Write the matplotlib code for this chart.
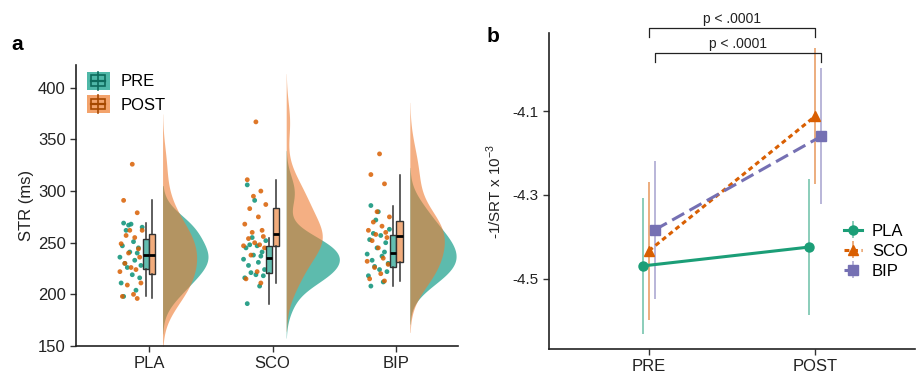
import numpy as np
import matplotlib
matplotlib.use('Agg')
import matplotlib.pyplot as plt
from matplotlib.patches import Patch, Rectangle
from matplotlib.lines import Line2D
from matplotlib.legend_handler import HandlerPatch

plt.rcParams['font.family'] = ['Liberation Sans', 'DejaVu Sans']

# ---- panel a data (STR, ms) ----
groups = ['PLA', 'SCO', 'BIP']
pla_pre = [198, 204, 211, 216, 219, 226, 228, 230, 233, 236, 240, 241, 245, 247, 251, 262, 265, 267, 268, 269]
pla_post = [196, 198, 200, 209, 211, 222, 224, 226, 230, 236, 240, 244, 249, 255, 257, 262, 262, 279, 291, 326]
sco_pre = [191, 208, 216, 218, 219, 221, 224, 228, 231, 234, 237, 238, 241, 245, 247, 248, 252, 255, 291, 306]
sco_post = [211, 215, 222, 238, 245, 247, 248, 250, 254, 256, 260, 262, 268, 275, 283, 287, 295, 300, 311, 367]
bip_pre = [208, 212, 218, 222, 224, 227, 230, 233, 237, 239, 241, 245, 250, 253, 257, 259, 263, 272, 280, 286]
bip_post = [213, 215, 220, 226, 229, 232, 235, 245, 252, 255, 258, 260, 262, 266, 270, 275, 280, 307, 316, 336]
pre_vals = [pla_pre, sco_pre, bip_pre]
post_vals = [pla_post, sco_post, bip_post]
# horizontal jitter of the raw points
jit_pre = [-0.06, 0.04, -0.08, 0.07, 0.01, -0.03, 0.08, -0.05, 0.03, -0.09,
           0.05, -0.01, 0.06, -0.07, 0.02, -0.04, 0.09, -0.02, 0.00, -0.06]
jit_post = [0.05, -0.07, 0.02, -0.03, 0.08, -0.09, 0.04, 0.00, -0.05, 0.07,
            -0.02, 0.06, -0.08, 0.03, -0.04, 0.09, -0.01, 0.05, -0.06, 0.01]

# ---- panel b data (-1/SRT x 10^-3) ----
times = ['PRE', 'POST']
pla_means = [-4.469, -4.424]
sco_means = [-4.433, -4.112]
bip_means = [-4.383, -4.160]
pla_ci = [0.163, 0.163]
sco_ci = [0.164, 0.163]
bip_ci = [0.165, 0.162]
p_labels = ['p < .0001', 'p < .0001']

teal = '#17977f'
orange = '#d95f02'
purple = '#7570b3'
green = '#1b9e77'


def kde(vals, adjust=1.35):
    v = np.asarray(vals, float)
    n = len(v)
    iqr = np.subtract(*np.percentile(v, [75, 25]))
    bw = adjust * 0.9 * min(v.std(ddof=1), iqr / 1.34) * n ** -0.2
    grid = np.linspace(v.min() - 2.5 * bw, v.max() + 2.5 * bw, 300)
    d = np.exp(-0.5 * ((grid[:, None] - v[None, :]) / bw) ** 2).sum(1) / (n * bw * np.sqrt(2 * np.pi))
    return grid, d


class BoxKey(HandlerPatch):
    def create_artists(self, legend, orig_handle, xdescent, ydescent, width, height, fontsize, trans):
        x0, y0 = -xdescent, -ydescent
        bg = Rectangle((x0, y0), width, height, facecolor=orig_handle.get_facecolor(),
                       edgecolor='none', transform=trans)
        cx = x0 + width / 2
        bw = width * 0.62
        ec = orig_handle.get_edgecolor()
        box = Rectangle((cx - bw / 2, y0 + height * 0.2), bw, height * 0.6, facecolor='none',
                        edgecolor=ec, lw=1.2, transform=trans)
        wh = Line2D([cx, cx], [y0, y0 + height], color=ec, lw=1.2, transform=trans)
        md = Line2D([cx - bw / 2, cx + bw / 2], [y0 + height / 2] * 2, color=ec, lw=1.6, transform=trans)
        return [bg, wh, box, md]


fig = plt.figure(figsize=(9.17, 3.74), dpi=100)
ax = fig.add_axes([0.0829, 0.0749, 0.4166, 0.7511])
bx = fig.add_axes([0.5987, 0.0668, 0.3993, 0.845])

# ---------------- panel a ----------------
dens = [kde(v) for v in pre_vals + post_vals]
scale = 0.43 / max(d.max() for _, d in dens)
for i in range(3):
    pos = i + 1
    g, d = dens[i]
    ax.fill_betweenx(g, pos + 0.11, pos + 0.11 + d * scale, color='#189f8b', alpha=0.7, lw=0, zorder=1)
    g, d = dens[i + 3]
    ax.fill_betweenx(g, pos + 0.11, pos + 0.11 + d * scale, color='#ee7b30', alpha=0.6, lw=0, zorder=2)
    ax.scatter(pos - 0.145 + np.array(jit_pre), pre_vals[i], s=12, color=teal, alpha=0.9,
               edgecolors='none', zorder=3)
    ax.scatter(pos - 0.145 + np.array(jit_post), post_vals[i], s=12, color=orange, alpha=0.85,
               edgecolors='none', zorder=3)
    for vals, off, fc in [(pre_vals[i], -0.027, '#62bdb0'), (post_vals[i], 0.027, '#f2ac7c')]:
        ax.boxplot([vals], positions=[pos + off], widths=0.05, patch_artist=True, showfliers=False,
                   showcaps=False, manage_ticks=False, zorder=4,
                   boxprops=dict(facecolor=fc, edgecolor='#333333', lw=1.0),
                   whiskerprops=dict(color='#333333', lw=1.1),
                   medianprops=dict(color='black', lw=2.0))

ax.set_xlim(0.41, 3.5)
ax.set_ylim(150, 422)
ax.set_xticks([1, 2, 3])
ax.set_xticklabels(groups, fontsize=12)
ax.set_yticks([150, 200, 250, 300, 350, 400])
ax.tick_params(axis='y', labelsize=12, length=4, width=1, colors='#333333', labelcolor='#222222')
ax.tick_params(axis='x', length=4, width=1, colors='#333333', labelcolor='#222222')
ax.set_ylabel('STR (ms)', fontsize=12, color='#222222', labelpad=3)
for s in ['top', 'right']:
    ax.spines[s].set_visible(False)
for s in ['left', 'bottom']:
    ax.spines[s].set_linewidth(1.2)
    ax.spines[s].set_color('#222222')

handles = [Patch(facecolor='#4fb8a8', edgecolor='#0d6b5c', label='PRE'),
           Patch(facecolor='#f3a36c', edgecolor='#a54800', label='POST')]
ax.legend(handles=handles, handler_map={Patch: BoxKey()}, loc='upper left',
          bbox_to_anchor=(0.01, 1.0), frameon=False, fontsize=12, handlelength=1.4,
          handleheight=1.3, handletextpad=0.65, labelspacing=0.3, borderaxespad=0)
fig.text(0.012, 0.865, 'a', fontsize=15, fontweight='bold')

# ---------------- panel b ----------------
xpos = np.arange(1, len(times) + 1)
dodge = 0.036
series = [('PLA', pla_means, pla_ci, green, 'o', '-', -1),
          ('SCO', sco_means, sco_ci, orange, '^', (0, (1.6, 1.2)), 0),
          ('BIP', bip_means, bip_ci, purple, 's', (0, (4.5, 2.0)), 1)]
for name, m, ci, col, mk, ls, k in series:
    rgba = matplotlib.colors.to_rgba(col, 0.55)
    bx.errorbar(xpos + k * dodge, m, yerr=ci, color=col, ecolor=rgba, elinewidth=1.3,
                marker=mk, markersize=6.5, linestyle=ls, linewidth=2.2, label=name, capsize=0)

bx.set_xlim(0.4, 2.6)
bx.set_ylim(-4.667, -3.914)
bx.set_xticks(xpos)
bx.set_xticklabels(times, fontsize=12)
bx.set_yticks([-4.5, -4.3, -4.1])
bx.set_yticklabels(['-4.5', '-4.3', '-4.1'])
bx.tick_params(axis='y', labelsize=11, length=4, width=1, colors='#333333', labelcolor='#222222')
bx.tick_params(axis='x', length=4, width=1, colors='#333333', labelcolor='#222222')
bx.set_ylabel('-1/SRT x 10$^{\\mathregular{-3}}$', fontsize=11, color='#222222', labelpad=6)
for s in ['top', 'right']:
    bx.spines[s].set_visible(False)
for s in ['left', 'bottom']:
    bx.spines[s].set_linewidth(1.2)
    bx.spines[s].set_color('#222222')

# significance brackets (SCO and BIP, PRE vs POST)
for j, (k, ytop) in enumerate([(0, -3.902), (1, -3.962)]):
    x1, x2 = 1 + k * dodge, 2 + k * dodge
    bx.plot([x1, x1, x2, x2], [ytop - 0.022, ytop, ytop, ytop - 0.022], color='#222222',
            lw=0.9, clip_on=False)
    bx.text((x1 + x2) / 2, ytop + 0.005, p_labels[j], ha='center', va='bottom', fontsize=10,
            color='#222222', clip_on=False)

bx.legend(loc='center left', bbox_to_anchor=(0.805, 0.31), frameon=False, fontsize=12,
          handlelength=1.1, labelspacing=0.3, handletextpad=0.6, borderpad=0, borderaxespad=0)
fig.text(0.531, 0.888, 'b', fontsize=15, fontweight='bold')

fig.savefig('out.png', dpi=100)
